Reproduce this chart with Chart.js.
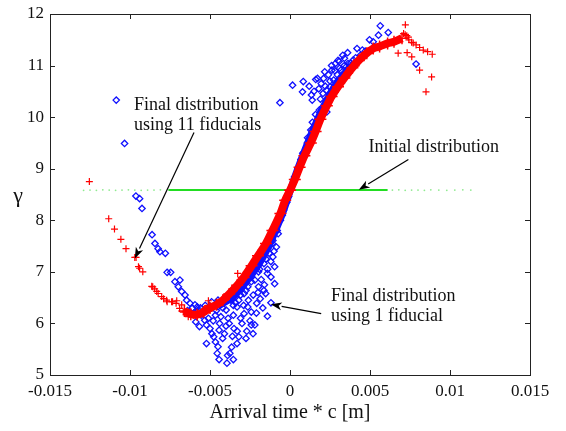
<!DOCTYPE html>
<html>
<head>
<meta charset="utf-8">
<script src="https://cdn.jsdelivr.net/npm/chart.js@4.4.1/dist/chart.umd.min.js"></script>
<style>
html, body { margin: 0; padding: 0; background: #fff; }
</style>
</head>
<body>
<canvas id="chart" width="566" height="431"></canvas>
<script>
// axis ticks
var xTickValues = [-0.015, -0.01, -0.005, 0, 0.005, 0.01, 0.015];
var xTickLabels = ["-0.015", "-0.01", "-0.005", "0", "0.005", "0.01", "0.015"];
var yTickValues = [5, 6, 7, 8, 9, 10, 11, 12];
var yTickLabels = ["5", "6", "7", "8", "9", "10", "11", "12"];

// initial distribution (green)
var greenCoreX = [-0.0076, -0.006, -0.004, -0.002, 0, 0.002, 0.004, 0.0061];
var greenCoreY = [8.585, 8.585, 8.586, 8.585, 8.585, 8.586, 8.585, 8.585];
var greenSparseX = [-0.0129, -0.0125, -0.0121, -0.0117, -0.0113, -0.0109, -0.0105, -0.0101, -0.0097, -0.0093, -0.0089, -0.0085, -0.0081,
                    0.0064, 0.0068, 0.0072, 0.0076, 0.008, 0.0084, 0.0088, 0.0093, 0.0098, 0.0103, 0.0108, 0.0113];
var greenSparseY = [8.58, 8.585, 8.58, 8.59, 8.585, 8.58, 8.585, 8.59, 8.585, 8.58, 8.585, 8.585, 8.59,
                    8.585, 8.59, 8.58, 8.585, 8.585, 8.58, 8.59, 8.585, 8.58, 8.585, 8.59, 8.585];

// final distribution using 11 fiducials (red), dense band + scattered crosses
var redBandX = [-0.0066, -0.0062, -0.0058, -0.0054, -0.005, -0.0046, -0.0042, -0.0038, -0.0033, -0.0029,
                -0.0024, -0.002, -0.0015, -0.0011, -0.0006, -0.0003, 0, 0.0003, 0.0006, 0.0009,
                0.0013, 0.0016, 0.0019, 0.0023, 0.0026, 0.003, 0.0034, 0.0039, 0.0043, 0.0048,
                0.0052, 0.0056, 0.0061, 0.0065, 0.007];
var redBandY = [6.24, 6.18, 6.17, 6.22, 6.3, 6.36, 6.45, 6.57, 6.74, 6.89,
                7.12, 7.31, 7.55, 7.8, 8.13, 8.39, 8.58, 8.79, 9.03, 9.25,
                9.5, 9.72, 9.96, 10.22, 10.4, 10.59, 10.76, 10.96, 11.1, 11.24,
                11.33, 11.37, 11.43, 11.46, 11.53];
var redX = [-0.01254, -0.01133, -0.01097, -0.01057, -0.01025, -0.0097, -0.00962, -0.00947, -0.0094, -0.0092,
            -0.00864, -0.00858, -0.00846, -0.00833, -0.00824, -0.00802, -0.0079, -0.00771, -0.00768, -0.0074,
            -0.00734, -0.00712, -0.00708, -0.0069, -0.00677, -0.00667, -0.00656, -0.00636, -0.00634, -0.00604,
            -0.006, -0.00566, -0.00533, -0.0051, -0.0051, -0.00488, -0.00466, -0.00327, 0.00676, 0.00721,
            0.00732, 0.00761, 0.0081, 0.0085, 0.00885, 0.00743, 0.00788, 0.00833, 0.00889, 0.0072,
            0.0074, 0.0076, 0.0077, 0.0081, 0.0086, 0.0071, 0.0073];
var redY = [8.75, 8.03, 7.83, 7.63, 7.45, 7.28, 7.28, 7.1, 7.07, 7.0,
            6.72, 6.71, 6.67, 6.62, 6.58, 6.52, 6.48, 6.45, 6.42, 6.42,
            6.42, 6.39, 6.44, 6.29, 6.36, 6.22, 6.23, 6.13, 6.18, 6.16,
            6.16, 6.19, 6.29, 6.35, 6.44, 6.29, 6.35, 6.97, 11.24, 11.79,
            11.25, 11.17, 10.91, 10.49, 10.78, 11.5, 11.4, 11.3, 11.22, 11.6,
            11.55, 11.45, 11.44, 11.35, 11.27, 11.62, 11.58];

// final distribution using 1 fiducial (blue), band beside the red one + scatter
var blueBandX = [-0.0045, -0.0035, -0.0028, -0.002, -0.0014, -0.0009, -0.0005, -0.0001, 0.0003, 0.0007,
                 0.0011, 0.0015, 0.002, 0.0025, 0.003, 0.0037, 0.0043];
var blueBandY = [6.33, 6.53, 6.78, 7.12, 7.45, 7.8, 8.1, 8.46, 8.84, 9.18,
                 9.5, 9.8, 10.15, 10.45, 10.7, 10.95, 11.1];
var blueX = [-0.01086, -0.01034, -0.00963, -0.0094, -0.00925, -0.00862, -0.00844, -0.00824, -0.00813, -0.00779,
             -0.00768, -0.00746, -0.00719, -0.00688, -0.00698, -0.00677, -0.00656, -0.00646, -0.00625, -0.00594,
             -0.00573, -0.0058, -0.00555, -0.00533, -0.00522, -0.005, -0.00488, -0.00477, -0.00466, -0.00455,
             -0.00443, -0.00394, -0.00354, -0.00376, -0.00365, -0.00331, -0.0032, -0.00275, -0.00242, -0.0022,
             -0.00231, -0.00443, -0.0041, -0.00421, -0.00522, -0.00566, -0.00589, -0.0051, -0.00466, -0.00432,
             -0.00387, -0.00354, -0.00309, -0.00287, -0.00264, -0.00242, -0.00208, -0.00186, -0.00152, -0.00141,
             -0.00119, -0.00096, -0.00096, -0.00119, -0.00141, -0.00163, -0.00197, -0.0022, -0.00264, -0.00287,
             -0.0032, -0.00354, -0.00399, -0.00331, -0.00107, -0.00085, -0.00074, -0.00107, -0.0013, -0.00163,
             -0.00197, -0.00242, -0.00275, -0.00309, -0.0053, -0.0049, -0.0045, -0.0061, -0.0064, -0.0041,
             -0.0038, -0.0035, -0.003, -0.0027, -0.0025, -0.0029, -0.0026, -0.0023, -0.002, -0.0018,
             -0.0016, -0.0014, -0.0012, -0.001, -0.0017, -0.0021, -0.0034, -0.0037, -0.0042, -0.0046,
             -0.0048, -0.0044, -0.004, -0.0036, -0.0033, -0.0045, -0.0039, -0.0049, -0.0056, -0.006,
             -0.0031, -0.0024, -0.0019, -0.0015, -0.0011, -0.0008, -0.0006, -0.0004, -0.0002,
             -0.00063, 0.00016, 0.00083, 0.00078, 0.00134, 0.00139, 0.00161, 0.00172, 0.00195, 0.00184,
             0.00161, 0.00217, 0.0024, 0.00262, 0.00284, 0.00307, 0.0034, 0.00363, 0.00419, 0.00452,
             0.00497, 0.0052, 0.00553, 0.00564, 0.00614, 0.00788, 0.00206, 0.00228, 0.00251, 0.00273,
             0.00296, 0.00318, 0.00329, 0.00352, 0.00374, 0.00396, 0.00195, 0.00177, 0.00206, 0.00228,
             0.00273, 0.0008, 0.0011, 0.0014, 0.0016, 0.0019, 0.0022, 0.0025, 0.0028, 0.0031,
             0.0034, 0.0038, 0.0041, 0.0044, 0.0047, 0.0021, 0.0026, 0.003, 0.0033, 0.0036,
             0.0023, 0.0018, 0.0012, 0.0015, 0.0005, 0.0003, 0.0013];
var blueY = [10.33, 9.49, 8.47, 8.42, 8.23, 7.72, 7.55, 7.45, 7.39, 7.36,
             6.99, 6.99, 6.81, 6.84, 6.71, 6.62, 6.55, 6.45, 6.39, 6.36,
             6.26, 6.32, 6.16, 6.06, 5.97, 5.9, 5.8, 5.74, 5.64, 5.42,
             5.3, 5.23, 5.3, 5.42, 5.54, 5.61, 5.74, 5.71, 5.97, 5.97,
             5.8, 5.87, 5.8, 5.71, 5.61, 5.94, 6.03, 6.1, 6.16, 6.13,
             6.1, 6.16, 6.1, 6.19, 6.32, 6.22, 6.39, 6.48, 6.58, 6.14,
             6.4, 6.77, 7.1, 6.9, 6.97, 6.64, 6.71, 6.84, 6.71, 6.58,
             6.45, 6.35, 6.26, 6.32, 7.29, 7.48, 7.74, 7.61, 7.36, 7.16,
             7.0, 6.81, 6.64, 6.55, 6.35, 6.42, 6.45, 6.3, 6.25, 6.42,
             6.0, 5.9, 6.0, 5.85, 6.05, 6.35, 6.45, 6.55, 6.6, 6.85,
             6.75, 7.05, 7.2, 7.4, 6.3, 6.2, 6.4, 6.45, 6.3, 6.25,
             6.05, 6.0, 5.95, 5.75, 5.85, 5.55, 5.38, 6.3, 6.3, 6.2,
             6.65, 6.9, 7.05, 7.25, 7.55, 7.8, 8.0, 8.2, 8.35,
             10.28, 10.62, 10.69, 10.49, 10.43, 10.33, 10.73, 10.75, 10.65, 10.14,
             9.75, 10.88, 10.82, 10.91, 11.04, 11.08, 11.14, 11.04, 11.33, 11.3,
             11.5, 11.46, 11.59, 11.77, 11.64, 11.03, 10.46, 10.33, 10.59, 10.72,
             10.82, 10.91, 10.78, 10.98, 10.91, 11.11, 10.01, 9.88, 10.2, 10.52,
             10.46, 9.3, 9.6, 9.9, 10.05, 10.35, 10.6, 10.7, 10.9, 10.95,
             11.0, 11.05, 11.15, 11.2, 11.28, 10.75, 11.0, 11.1, 11.2, 11.25,
             10.1, 10.55, 10.6, 10.5, 9.0, 8.8, 9.75];

function points(xs, ys) {
  return xs.map(function (x, i) { return { x: x, y: ys[i] }; });
}

var serif = "'Liberation Serif', 'Times New Roman', serif";

// text notes and arrows, in data coordinates
var notes = [
  { lines: ["Final distribution", "using 11 fiducials"], x: -0.00975, y: 10.24 },
  { lines: ["Initial distribution"], x: 0.0049, y: 9.42 },
  { lines: ["Final distribution", "using 1 fiducial"], x: 0.00256, y: 6.53 }
];
var arrows = [
  { x0: -0.006, y0: 9.7, x1: -0.0097, y1: 7.26 },
  { x0: 0.0074, y0: 9.18, x1: 0.0043, y1: 8.59 },
  { x0: 0.00195, y0: 6.19, x1: -0.0012, y1: 6.37 }
];

/*
枠線・内向き目盛り・目盛りラベル・注記を描く
*/
var framePlugin = {
  id: 'frame',
  afterDraw: function (chart) {
    var ctx = chart.ctx;
    var a = chart.chartArea;
    var xs = chart.scales.x, ys = chart.scales.y;
    ctx.save();
    ctx.strokeStyle = '#222';
    ctx.lineWidth = 1;
    ctx.strokeRect(Math.round(a.left) + 0.5, Math.round(a.top) + 0.5,
                   Math.round(a.right - a.left), Math.round(a.bottom - a.top));
    ctx.beginPath();
    xTickValues.forEach(function (v) {
      var px = Math.round(xs.getPixelForValue(v)) + 0.5;
      ctx.moveTo(px, a.bottom); ctx.lineTo(px, a.bottom - 5);
      ctx.moveTo(px, a.top); ctx.lineTo(px, a.top + 5);
    });
    yTickValues.forEach(function (v) {
      var py = Math.round(ys.getPixelForValue(v)) + 0.5;
      ctx.moveTo(a.left, py); ctx.lineTo(a.left + 5, py);
      ctx.moveTo(a.right, py); ctx.lineTo(a.right - 5, py);
    });
    ctx.stroke();

    // tick labels
    ctx.fillStyle = '#111';
    ctx.font = '17px ' + serif;
    ctx.textBaseline = 'middle';
    ctx.textAlign = 'center';
    xTickValues.forEach(function (v, i) {
      ctx.fillText(xTickLabels[i], xs.getPixelForValue(v), a.bottom + 17);
    });
    ctx.textAlign = 'right';
    yTickValues.forEach(function (v, i) {
      ctx.fillText(yTickLabels[i], a.left - 6, ys.getPixelForValue(v));
    });

    // y title (upright gamma)
    ctx.font = '22px ' + serif;
    ctx.textAlign = 'center';
    ctx.fillText('\u03b3', 18, 196);

    // notes
    ctx.font = '18px ' + serif;
    ctx.textAlign = 'left';
    notes.forEach(function (n) {
      var px = xs.getPixelForValue(n.x), py = ys.getPixelForValue(n.y);
      n.lines.forEach(function (t, i) { ctx.fillText(t, px, py + i * 20); });
    });

    // arrows
    ctx.strokeStyle = '#000';
    ctx.fillStyle = '#000';
    ctx.lineWidth = 1.2;
    arrows.forEach(function (ar) {
      var x0 = xs.getPixelForValue(ar.x0), y0 = ys.getPixelForValue(ar.y0);
      var x1 = xs.getPixelForValue(ar.x1), y1 = ys.getPixelForValue(ar.y1);
      var ang = Math.atan2(y1 - y0, x1 - x0);
      var len = 11, half = 4;
      var bx = x1 - len * Math.cos(ang), by = y1 - len * Math.sin(ang);
      ctx.beginPath();
      ctx.moveTo(x0, y0); ctx.lineTo(bx, by);
      ctx.stroke();
      ctx.beginPath();
      ctx.moveTo(x1, y1);
      ctx.lineTo(bx + half * Math.sin(ang), by - half * Math.cos(ang));
      ctx.lineTo(bx + 3 * Math.cos(ang), by + 3 * Math.sin(ang));
      ctx.lineTo(bx - half * Math.sin(ang), by + half * Math.cos(ang));
      ctx.closePath();
      ctx.fill();
    });
    ctx.restore();
  }
};

var config = {
  type: 'scatter',
  data: {
    datasets: [
      { label: 'red', data: points(redX, redY), pointStyle: 'cross', pointRadius: 3.5,
        borderColor: '#ff0000', borderWidth: 1.2, order: 1 },
      { label: 'red band', data: points(redBandX, redBandY), showLine: true, borderWidth: 8,
        borderColor: '#ff0000', pointStyle: 'cross', pointRadius: 6, pointBorderWidth: 1.5,
        pointBorderColor: '#ff0000', tension: 0.3, order: 2 },
      { label: 'blue band', data: points(blueBandX, blueBandY), showLine: true, borderWidth: 7,
        borderColor: '#1010ff', pointStyle: 'rectRot', pointRadius: 3.5, pointBorderWidth: 1.2,
        pointBackgroundColor: 'rgba(0,0,0,0)', tension: 0.3, order: 3 },
      { label: 'blue', data: points(blueX, blueY), pointStyle: 'rectRot', pointRadius: 3.2,
        borderColor: '#1010ff', backgroundColor: 'rgba(0,0,0,0)', borderWidth: 1.3, order: 4 },
      { label: 'green', data: points(greenCoreX, greenCoreY), showLine: true, borderWidth: 2,
        borderColor: '#22dd22', pointRadius: 0, order: 5 },
      { label: 'green sparse', data: points(greenSparseX, greenSparseY), pointRadius: 0.9,
        borderWidth: 0, backgroundColor: '#90ea90', order: 6 }
    ]
  },
  options: {
    responsive: false,
    animation: false,
    layout: { padding: { top: 14, right: 36, left: 0, bottom: 0 } },
    plugins: { legend: { display: false }, tooltip: { enabled: false } },
    scales: {
      x: {
        type: 'linear', min: -0.015, max: 0.015,
        afterBuildTicks: function (s) { s.ticks = xTickValues.map(function (v) { return { value: v }; }); },
        afterFit: function (s) { s.height = 56; },
        grid: { display: false, drawTicks: false },
        border: { display: false },
        ticks: { display: false },
        title: { display: true, text: 'Arrival time * c [m]', color: '#111',
                 font: { family: serif, size: 20 }, padding: { top: 0, bottom: 6 } }
      },
      y: {
        type: 'linear', min: 5, max: 12,
        afterBuildTicks: function (s) { s.ticks = yTickValues.map(function (v) { return { value: v }; }); },
        afterFit: function (s) { s.width = 50; },
        grid: { display: false, drawTicks: false },
        border: { display: false },
        ticks: { display: false }
      }
    }
  },
  plugins: [framePlugin]
};

var ctx = document.getElementById('chart').getContext('2d');
window.myScatter = new Chart(ctx, config);
</script>
</body>
</html>
